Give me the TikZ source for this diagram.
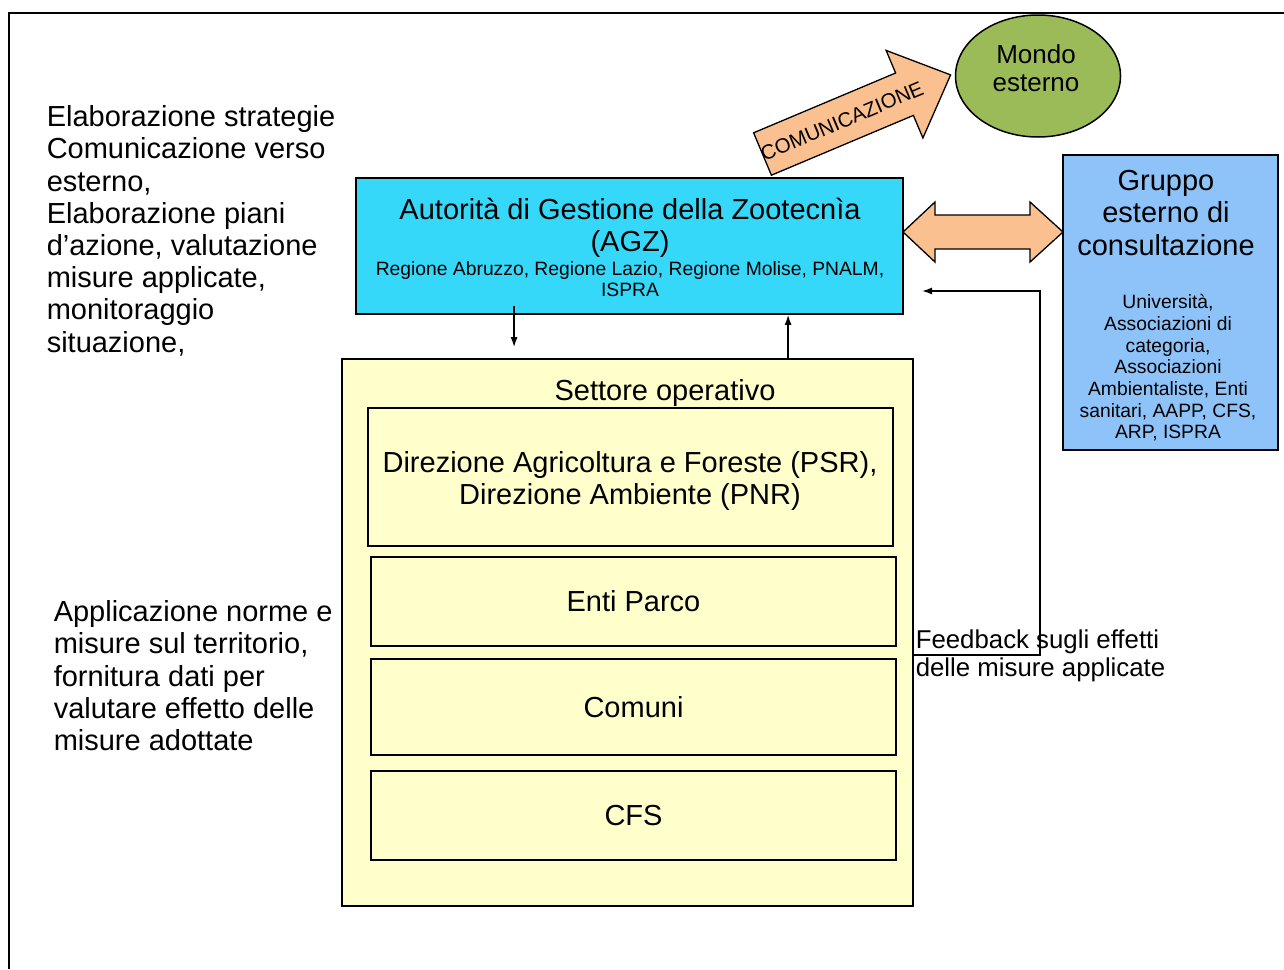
\documentclass[tikz,border=0pt]{standalone}
\usepackage{fontspec}
\setmainfont{Liberation Sans}
\usetikzlibrary{shapes.geometric,arrows.meta}

\definecolor{agzcyan}{RGB}{53,216,248}
\definecolor{grpblue}{RGB}{141,195,249}
\definecolor{settyellow}{RGB}{255,255,204}
\definecolor{arrowpeach}{RGB}{250,192,144}
\definecolor{mondogreen}{RGB}{155,187,89}

\newcommand{\bigtxt}{\fontsize{29}{32.2}\selectfont}
\newcommand{\smalltxt}{\fontsize{19.3}{21.7}\selectfont}
\newcommand{\fbtxt}{\fontsize{25.8}{28}\selectfont}

\begin{document}
\begin{tikzpicture}[x=1pt, y=-1pt, line width=1.5pt, >={Latex[length=10pt,width=7pt]},
    box/.style={draw, line width=1.8pt, inner sep=0pt},
    flow/.style={->, line width=1.4pt},
    blockarrow/.style={draw, line width=1.3pt, fill=arrowpeach}]
    \useasboundingbox (0,0) rectangle (1284,969);

    % Frame.
    \draw (9,969) -- (9,13) -- (1284,13);

    % Roles.
    \node[font=\bigtxt, align=left, anchor=north west, inner sep=0pt] (ruoloagz) at (46,105)
        {Elaborazione strategie\\Comunicazione verso\\esterno,\\Elaborazione piani\\d'azione, valutazione\\misure applicate,\\monitoraggio\\situazione,};
    \node[font=\bigtxt, align=left, anchor=north west, inner sep=0pt] (ruolosett) at (53,600)
        {Applicazione norme e\\misure sul territorio,\\fornitura dati per\\valutare effetto delle\\misure adottate};

    % Communication.
    \draw[blockarrow] (753.6,132.8) -- (895.6,73) -- (886.1,50.4) -- (950.6,74.9)
        -- (922.9,138) -- (913.4,115.4) -- (771.4,175.2) -- cycle;
    \node[font=\fontsize{20.5}{24}\selectfont, rotate=22.8] (comm) at (842,121) {COMUNICAZIONE};
    \node[ellipse, draw, fill=mondogreen, minimum width=165pt, minimum height=122pt] (mondo) at (1038,76) {};
    \node[font=\fontsize{26}{28}\selectfont, align=center] (mondotext) at (1036,68) {Mondo\\esterno};

    % Authority.
    \node[box, fill=agzcyan, minimum width=547pt, minimum height=136pt] (agz) at (629.5,246) {};
    \node[font=\bigtxt, align=center] (agztitle) at (630,228) {Autorità di Gestione della Zootecnìa\\(AGZ)};
    \node[font=\smalltxt, align=center] (agzmembers) at (630,279)
        {Regione Abruzzo, Regione Lazio, Regione Molise, PNALM,\\ISPRA};

    % Consultation group.
    \node[box, fill=grpblue, minimum width=215pt, minimum height=295pt] (grp) at (1170.5,302.5) {};
    \node[font=\bigtxt, align=center] (grptitle) at (1166,213) {Gruppo\\esterno di\\consultazione};
    \node[font=\smalltxt, align=center] (grpmembers) at (1168,368)
        {Università,\\Associazioni di\\categoria,\\Associazioni\\Ambientaliste, Enti\\sanitari, AAPP, CFS,\\ARP, ISPRA};
    \draw[blockarrow] (903,232) -- (935,202) -- (935,215) -- (1030,215) -- (1030,202) -- (1063,232)
        -- (1030,262) -- (1030,249) -- (935,249) -- (935,262) -- cycle;

    % Operative sector.
    \node[box, fill=settyellow, minimum width=571pt, minimum height=547pt] (sett) at (627.5,632.5) {};
    \node[font=\bigtxt] (setttitle) at (665,393) {Settore operativo};
    \node[box, minimum width=525pt, minimum height=138pt] (dir) at (630.5,477) {};
    \node[font=\bigtxt, align=center] (dirtext) at (630,481)
        {Direzione Agricoltura e Foreste (PSR),\\Direzione Ambiente (PNR)};
    \node[box, font=\bigtxt, minimum width=525pt, minimum height=89pt] (enti) at (633.5,601.5) {Enti Parco};
    \node[box, font=\bigtxt, minimum width=525pt, minimum height=96pt] (comuni) at (633.5,707) {Comuni};
    \node[box, font=\bigtxt, minimum width=525pt, minimum height=89pt] (cfs) at (633.5,815.5) {CFS};

    % Arrows between authority and sector.
    \draw[flow] ([xshift=159pt,yshift=9pt]agz.south west) -- ([xshift=173pt,yshift=11pt]sett.north west);
    \draw[flow] ([xshift=447pt]sett.north west) -- ([xshift=433pt]agz.south west);

    % Feedback.
    \node[font=\fbtxt, align=left, anchor=north west, inner sep=0pt] (fbtext) at (915,629)
        {Feedback sugli effetti\\delle misure applicate};
    \coordinate (fbcorner) at (1040,655);
    \coordinate (fbtop) at (1040,291);
    \coordinate (fbend) at (922,291);
    \draw[flow] (sett.east |- fbcorner) -- (fbcorner) -- (fbtop) -- (fbend);

\end{tikzpicture}
\end{document}
